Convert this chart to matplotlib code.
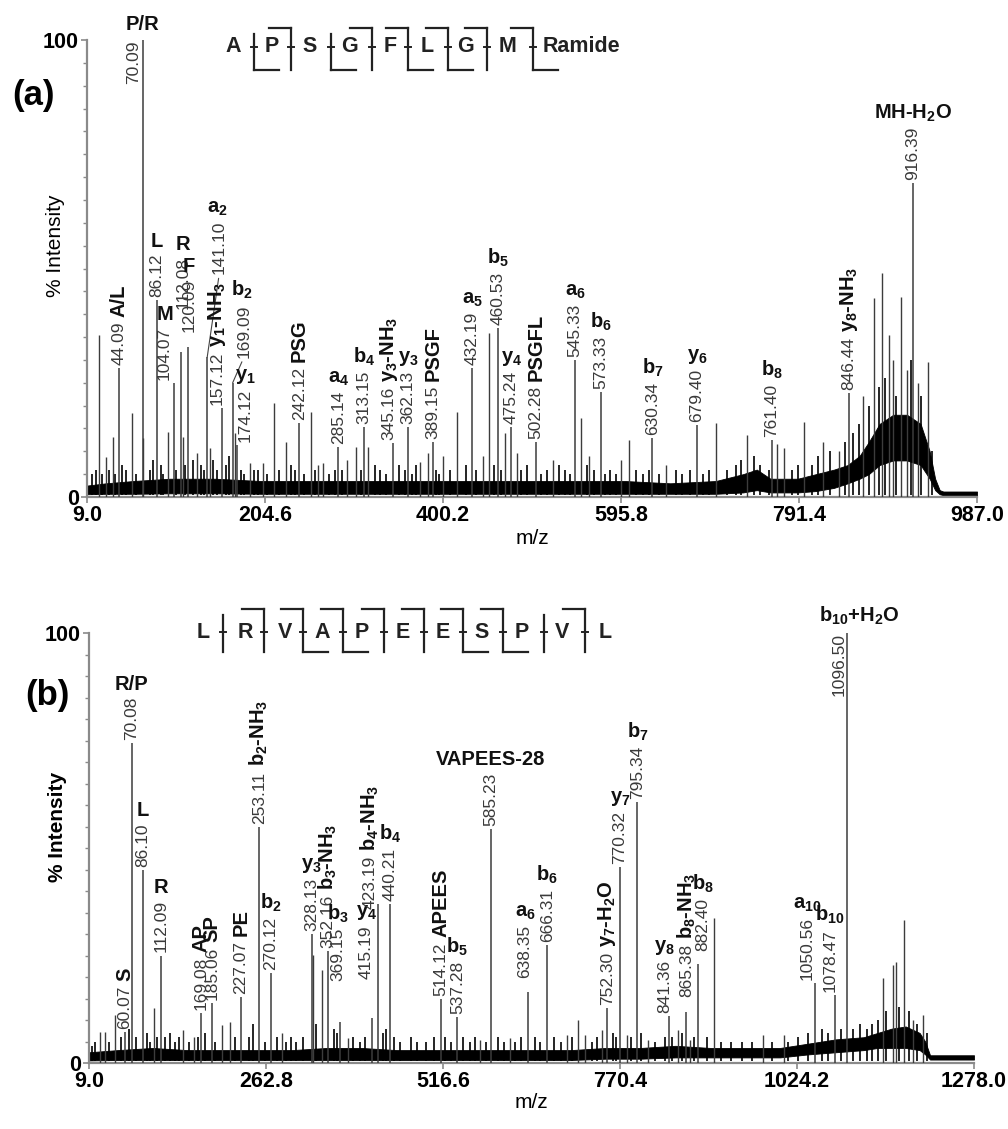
import matplotlib
matplotlib.use('Agg')
import matplotlib.pyplot as plt
from matplotlib.lines import Line2D
from matplotlib.ticker import MultipleLocator

plt.rcParams['font.family'] = ['Liberation Sans', 'DejaVu Sans']
plt.rcParams['mathtext.fontset'] = 'custom'
plt.rcParams['mathtext.rm'] = 'Liberation Sans'
plt.rcParams['mathtext.bf'] = 'Liberation Sans:bold'
plt.rcParams['mathtext.default'] = 'bf'

# ====================== DATA: panel (a) ======================
a_xticks = [9.0, 204.6, 400.2, 595.8, 791.4, 987.0]
a_xticklabels = ['9.0', '204.6', '400.2', '595.8', '791.4', '987.0']
a_ann_mz = [44.09, 70.09, 86.12, 104.07, 112.08, 120.09, 141.10, 157.12, 169.09, 174.12,
            242.12, 285.14, 313.15, 345.16, 362.13, 389.15, 432.19, 460.53, 475.24, 502.28,
            545.33, 573.33, 630.34, 679.40, 761.40, 846.44, 916.39]
a_ann_int = [28.2, 100, 43.1, 25, 31.7, 32.8, 30.6, 19.5, 25, 11.4,
             16.2, 10.9, 15.3, 11.8, 15.3, 12, 28.2, 37, 15.3, 12,
             30, 23, 12.9, 15.8, 12.5, 22.8, 68.7]
a_ann_ion = ['A/L', 'P/R', 'L', 'M', 'R', 'F', 'a$_2$', 'y$_1$-NH$_3$', 'b$_2$', 'y$_1$',
             'PSG', 'a$_4$', 'b$_4$', 'y$_3$-NH$_3$', 'y$_3$', 'PSGF', 'a$_5$', 'b$_5$', 'y$_4$', 'PSGFL',
             'a$_6$', 'b$_6$', 'b$_7$', 'y$_6$', 'b$_8$', 'y$_8$-NH$_3$', 'MH-H$_2$O']
a_other_mz = [22.2, 29.9, 37.6, 58.5, 71, 98, 114.5, 130, 144, 171.6, 188, 202, 214.5, 227.7,
              255, 263, 268, 295, 304.6, 317.8, 375, 383.7, 400, 415.6, 444, 450.8, 468, 481.5,
              521, 552, 561, 596, 604.6, 645, 700, 734, 767, 775, 797, 818, 835, 862,
              874, 882.6, 890, 895, 903.5, 910, 922, 933]
a_other_int = [35.4, 8.8, 13.1, 18.4, 12.9, 14.2, 13.1, 9.6, 10.7, 14, 7.5, 7.5, 20.6, 12,
               18.6, 7, 7.5, 8, 11, 11, 7.7, 9.6, 9, 18.6, 9, 35.9, 14, 9.6,
               8, 17.3, 9, 8, 12.5, 7, 16.2, 13.6, 11.5, 10.7, 16.4, 12, 10, 22,
               43.5, 49, 35.4, 30, 43.8, 27.8, 25, 29.5]
a_small_mz = [15, 19, 26, 33, 40, 48, 52, 63, 78, 81, 90, 93, 107, 117, 125, 134, 138, 148,
              152, 162, 165, 178, 182, 193, 197, 207, 220, 233, 238, 247, 259, 275, 281, 289,
              310, 325, 331, 338, 352, 358, 366, 371, 392, 396, 408, 425, 437, 456, 464, 486,
              492, 508, 515, 528, 534, 540, 558, 566, 578, 584, 590, 612, 620, 627, 638, 656,
              663, 672, 686, 692, 712, 722, 728, 742, 748, 758, 784, 790, 806, 812, 826, 842,
              851, 857, 868, 879, 886, 898, 915, 926, 938]
a_small_int = [5, 6, 5, 6, 5, 7, 6, 5, 6, 8, 7, 5, 6, 7, 8, 7, 6, 8,
               6, 7, 9, 6, 5, 6, 6, 5, 6, 7, 6, 5, 6, 5, 6, 6,
               6, 7, 6, 5, 7, 6, 5, 7, 6, 5, 6, 7, 6, 7, 6, 6,
               7, 5, 6, 7, 6, 5, 7, 6, 5, 6, 5, 6, 5, 6, 5, 6,
               5, 6, 5, 6, 6, 7, 8, 9, 7, 6, 6, 7, 7, 9, 10, 12,
               14, 16, 20, 24, 26, 22, 30, 22, 10]
a_band_mz = [9, 30, 60, 100, 150, 200, 250, 300, 350, 400, 450, 500, 550, 600, 650, 700,
             730, 745, 760, 790, 810, 830, 845, 858, 868, 880, 895, 910, 925, 935, 941, 946, 950, 987]
a_band_hi = [2.5, 3, 3.5, 4, 4, 3.5, 3.5, 3.5, 3.5, 3.5, 3.5, 3.5, 3.5, 3.5, 3, 3.5,
             5, 6, 4, 4, 5, 6, 7, 9, 12, 16, 18, 18, 16, 10, 4, 1.5, 1.2, 1.2]
a_band_lo = [0.6, 0.7, 0.7, 0.8, 0.8, 0.7, 0.7, 0.7, 0.7, 0.7, 0.7, 0.7, 0.7, 0.7, 0.7, 0.7,
             1, 1.5, 1, 1, 1.3, 2, 3, 4, 5, 7, 8, 8, 7, 4, 1.5, 0.6, 0.4, 0.4]

# ====================== DATA: panel (b) ======================
b_xticks = [9.0, 262.8, 516.6, 770.4, 1024.2, 1278.0]
b_xticklabels = ['9.0', '262.8', '516.6', '770.4', '1024.2', '1278.0']
b_ann_mz = [60.07, 70.08, 86.10, 112.09, 169.08, 185.06, 227.07, 253.11, 270.12, 328.13,
            352.16, 369.15, 415.19, 423.19, 440.21, 514.12, 537.28, 585.23, 638.35, 666.31,
            752.30, 770.32, 795.34, 841.36, 865.38, 882.40, 1050.56, 1078.47, 1096.50]
b_ann_int = [7.2, 74.4, 44.9, 25, 11.6, 14, 15.3, 55, 21, 30,
             26, 9.5, 10.5, 37, 37, 15, 10.7, 54.5, 16.5, 27.4,
             12.8, 45.6, 60.7, 11, 11.9, 23, 18.6, 15.8, 100]
b_ann_ion = ['S', 'R/P', 'L', 'R', 'AP', 'SP', 'PE', 'b$_2$-NH$_3$', 'b$_2$', 'y$_3$',
             'b$_3$-NH$_3$', 'b$_3$', 'y$_4$', 'b$_4$-NH$_3$', 'b$_4$', 'APEES', 'b$_5$', 'VAPEES-28', 'a$_6$', 'b$_6$',
             'y$_7$-H$_2$O', 'y$_7$', 'b$_7$', 'y$_8$', 'b$_8$-NH$_3$', 'b$_8$', 'a$_{10}$', 'b$_{10}$', 'b$_{10}$+H$_2$O']
b_other_mz = [24.8, 32, 46.3, 102, 144, 159.6, 199.7, 211, 285.7, 330, 343, 380, 570, 613,
              694, 710, 720, 744.6, 780, 810.5, 854, 871, 905, 975, 1005,
              1147.5, 1162, 1166, 1177.6, 1190.5, 1204.8]
b_other_int = [7.2, 7.2, 11.2, 12.8, 7.7, 6, 8.8, 9.5, 7, 25.1, 21.6, 5.8, 5.3, 5.8,
               6.5, 10, 6.5, 7.7, 6.5, 5.3, 7.7, 5.3, 33.7, 6.5, 6.5,
               19.8, 22.8, 23.5, 33.3, 10, 11.2]
b_small_mz = [13, 18, 38, 55, 66, 77, 92, 97, 107, 118, 125, 132, 138, 153, 165, 176, 190,
              218, 238, 244, 262, 278, 292, 298, 306, 316, 335, 360, 365, 388, 398, 405, 430,
              435, 447, 455, 470, 480, 492, 503, 520, 528, 545, 556, 562, 578, 596, 604, 620,
              628, 648, 656, 676, 686, 702, 730, 738, 760, 764, 786, 800, 820, 835, 845, 860,
              876, 895, 915, 930, 945, 960, 988, 1012, 1025, 1040, 1060, 1068, 1088, 1105,
              1115, 1125, 1132, 1140, 1152, 1170, 1185, 1196, 1210]
b_small_int = [4, 5, 5, 6, 8, 6, 7, 5, 6, 6, 7, 5, 6, 5, 6, 7, 5,
               6, 6, 9, 5, 6, 5, 6, 5, 6, 9, 8, 7, 6, 5, 6, 7,
               8, 6, 5, 6, 5, 5, 6, 6, 5, 6, 5, 6, 5, 6, 5, 5,
               6, 6, 5, 6, 5, 6, 5, 6, 7, 6, 6, 7, 5, 6, 6, 7,
               6, 6, 5, 5, 5, 5, 5, 5, 6, 7, 8, 7, 8, 8,
               9, 8, 9, 10, 12, 13, 12, 9, 7]
b_band_mz = [9, 50, 100, 150, 200, 250, 300, 350, 400, 450, 500, 550, 600, 650, 700, 750,
             800, 850, 900, 950, 1000, 1040, 1080, 1120, 1140, 1160, 1180, 1200, 1208, 1215, 1278]
b_band_hi = [2.5, 3, 3.5, 3, 3, 3, 3, 3.5, 3.5, 3, 3, 3, 3, 3, 3, 3.5,
             3.5, 4, 3.5, 3.5, 3.5, 4.5, 5.5, 6, 7, 8, 8.5, 7, 5, 1.8, 1.8]
b_band_lo = [0.6, 0.7, 0.7, 0.7, 0.7, 0.7, 0.7, 0.7, 0.7, 0.7, 0.7, 0.7, 0.7, 0.7, 0.7, 1,
             1, 1.3, 1.3, 1.3, 1.3, 2, 2.5, 3, 3.5, 3.5, 3.5, 3, 2, 0.8, 0.8]

a_sequence = ['A', 'P', 'S', 'G', 'F', 'L', 'G', 'M', 'Ramide']
b_sequence = ['L', 'R', 'V', 'A', 'P', 'E', 'E', 'S', 'P', 'V', 'L']

# ====================== LAYOUT ======================
W, H = 1008, 1129
a_inline = {'A/L', 'y$_1$-NH$_3$', 'PSG', 'y$_3$-NH$_3$', 'PSGF', 'PSGFL', 'y$_8$-NH$_3$'}
b_inline = {'S', 'AP', 'SP', 'PE', 'b$_2$-NH$_3$', 'b$_3$-NH$_3$', 'b$_4$-NH$_3$', 'APEES',
            'y$_7$-H$_2$O', 'b$_8$-NH$_3$'}
# label offsets in pixels: (dx, dy, leader)
a_offsets = {104.07: (-9, 0, False), 112.08: (2, 40, False), 120.09: (1, 12, False),
             141.10: (12, 80, True), 157.12: (-5, 0, False), 169.09: (11, 22, True),
             174.12: (8, 0, False), 345.16: (-4, 0, False)}
b_offsets = {369.15: (-2, 38, False), 415.19: (-6, 36, False), 423.19: (-8, -8, False),
             638.35: (-3, 11, False), 865.38: (1, 12, False), 882.40: (5, 10, False),
             1050.56: (-8, 0, False), 1078.47: (-5, 0, False), 841.36: (-5, 0, False)}
side_ion_dx = {70.09: 0, 1096.50: 12}

NUM_FS = 12.5
ION_FS = 14.5
TICK_FS = 15.5
STICK_C = '#3c3c3c'
SPINE_C = '#8a8a8a'

fig = plt.figure(figsize=(W / 100, H / 100), dpi=100)
fig.patch.set_facecolor('white')

ax_a = fig.add_axes([87 / W, 1 - 497 / H, 890 / W, 457 / H])
ax_b = fig.add_axes([89 / W, 1 - 1063 / H, 885 / W, 430 / H])


def style_axes(ax, xlim, xticks, xticklabels, ylabel_bold, ylab_y):
    ax.set_xlim(*xlim)
    ax.set_ylim(0, 100)
    for s in ['top', 'right']:
        ax.spines[s].set_visible(False)
    for s in ['left', 'bottom']:
        ax.spines[s].set_color(SPINE_C)
        ax.spines[s].set_linewidth(1.6)
    ax.set_xticks(xticks)
    ax.set_xticklabels(xticklabels, fontsize=TICK_FS, fontweight='bold')
    ax.set_yticks([0, 100])
    ax.set_yticklabels(['0', '100'], fontsize=TICK_FS, fontweight='bold')
    ax.yaxis.set_minor_locator(MultipleLocator(5))
    ax.tick_params(axis='both', which='major', direction='out', length=4, width=1.2,
                   color=SPINE_C, pad=2)
    ax.tick_params(axis='y', which='minor', direction='out', length=3, width=1.0, color=SPINE_C)
    ax.set_ylabel('% Intensity', fontsize=15, fontweight='bold' if ylabel_bold else 'normal')
    ax.yaxis.set_label_coords(-0.025, ylab_y)
    ax.set_xlabel('m/z', fontsize=15)
    ax.xaxis.set_label_coords(0.5, -0.07)
    ax.set_facecolor('none')


def draw_spectrum(ax, band_mz, band_lo, band_hi, small_mz, small_int,
                  other_mz, other_int, ann_mz, ann_int):
    ax.fill_between(band_mz, band_lo, band_hi, color='black', lw=0.6, zorder=2)
    ax.vlines(small_mz, 0.5, small_int, color='black', lw=1.2, zorder=2)
    ax.vlines(other_mz, 0, other_int, color=STICK_C, lw=1.0, zorder=3)
    ax.vlines(ann_mz, 0, ann_int, color=STICK_C, lw=1.1, zorder=3)


def draw_labels(ax, ann_mz, ann_int, ann_ion, inline, offsets):
    for mz, h, ion in zip(ann_mz, ann_int, ann_ion):
        num = f'{mz:.2f}'
        if h >= 99:
            ax.annotate(num, xy=(mz, h), xytext=(-1, 0), textcoords='offset pixels',
                        rotation=90, ha='right', va='top', fontsize=NUM_FS, color='#3a3a3a',
                        annotation_clip=False)
            ax.annotate(ion, xy=(mz, h), xytext=(side_ion_dx.get(mz, 0), 6),
                        textcoords='offset pixels', ha='center', va='bottom',
                        fontsize=ION_FS, fontweight='bold', color='#111111',
                        annotation_clip=False)
            continue
        dx, dy, leader = offsets.get(mz, (0, 0, False))
        arrow = None
        if leader:
            arrow = dict(arrowstyle='-', color='#444444', lw=0.8, shrinkA=1, shrinkB=0,
                         relpos=(0.5, 0.0))
        t = ax.annotate(num, xy=(mz, h), xytext=(dx, 3 + dy), textcoords='offset pixels',
                        rotation=90, ha='center', va='bottom', fontsize=NUM_FS,
                        color='#3a3a3a', arrowprops=arrow, annotation_clip=False, zorder=5)
        if ion in inline:
            ax.annotate(ion, xy=(0.5, 1.0), xycoords=t, xytext=(0, 5),
                        textcoords='offset pixels', rotation=90, ha='center', va='bottom',
                        fontsize=ION_FS, fontweight='bold', color='#111111', zorder=5)
        else:
            ax.annotate(ion, xy=(0.5, 1.0), xycoords=t, xytext=(0, 3),
                        textcoords='offset pixels', ha='center', va='bottom',
                        fontsize=ION_FS, fontweight='bold', color='#111111', zorder=5)


def fline(xs, ys, lw=1.6):
    fig.add_artist(Line2D([x / W for x in xs], [1 - y / H for y in ys],
                          transform=fig.transFigure, color='#222222', lw=lw))


def draw_sequence(residues, res_x, sep_x, top_arm, bot_arm, yc, ytop, ybot, last_left=False):
    for i, (r, x) in enumerate(zip(residues, res_x)):
        ha = 'left' if (last_left and i == len(residues) - 1) else 'center'
        fig.text(x / W, 1 - yc / H, r, ha=ha, va='center', fontsize=15.5,
                 fontweight='bold', color='#222222')
    for i, sx in enumerate(sep_x):
        y0 = ytop if top_arm[i] else ytop + 6
        fline([sx, sx], [y0, ybot])
        fline([sx - 3, sx + 3], [yc, yc], lw=1.4)
        if top_arm[i]:
            fline([sx - 22, sx], [ytop, ytop])
        if bot_arm[i]:
            fline([sx, sx + 25], [ybot, ybot])


style_axes(ax_a, (9.0, 987.0), a_xticks, a_xticklabels, False, 0.55)
style_axes(ax_b, (9.0, 1278.0), b_xticks, b_xticklabels, True, 0.55)

draw_spectrum(ax_a, a_band_mz, a_band_lo, a_band_hi, a_small_mz, a_small_int,
              a_other_mz, a_other_int, a_ann_mz, a_ann_int)
draw_spectrum(ax_b, b_band_mz, b_band_lo, b_band_hi, b_small_mz, b_small_int,
              b_other_mz, b_other_int, b_ann_mz, b_ann_int)
draw_labels(ax_a, a_ann_mz, a_ann_int, a_ann_ion, a_inline, a_offsets)
draw_labels(ax_b, b_ann_mz, b_ann_int, b_ann_ion, b_inline, b_offsets)

fig.text(34 / W, 1 - 95 / H, '(a)', fontsize=25, fontweight='bold', ha='center', va='center')
fig.text(47 / W, 1 - 695 / H, '(b)', fontsize=25, fontweight='bold', ha='center', va='center')

draw_sequence(a_sequence,
              [233, 272, 310, 350, 390, 427, 466, 508, 543],
              [254, 291, 331, 372, 408, 448, 487, 533],
              [False, True, False, True, True, True, True, True],
              [True, False, True, False, True, True, False, True],
              47, 28, 70, last_left=True)
draw_sequence(b_sequence,
              [203, 245, 285, 322, 362, 403, 443, 482, 522, 562, 605],
              [223, 264, 303, 343, 384, 424, 463, 503, 544, 585],
              [False, True, True, True, True, True, True, True, False, True],
              [False, False, True, True, False, False, True, True, False, False],
              632, 609, 652)

fig.savefig('out.png', dpi=100, facecolor='white')
